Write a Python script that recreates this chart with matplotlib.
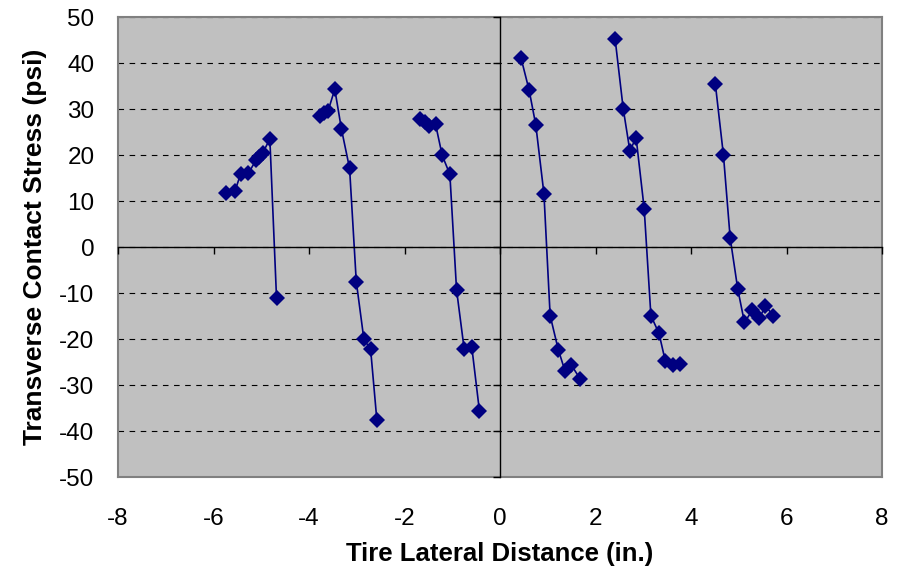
#!/usr/bin/env python
"""Transverse contact stress across the tire width, one trace per rib."""

import matplotlib

matplotlib.use("Agg")
import matplotlib.pyplot as plt

plt.rcParams["font.family"] = ["Liberation Sans", "DejaVu Sans"]
plt.rcParams["axes.unicode_minus"] = False

# lateral distance (in.) and stress (psi) for each rib
rib1_x = [-5.73, -5.55, -5.43, -5.27, -5.11, -5.05, -4.97, -4.82, -4.68]
rib1_y = [11.8, 12.2, 15.9, 16.0, 18.9, 19.6, 20.4, 23.5, -11.1]

rib2_x = [-3.77, -3.69, -3.60, -3.46, -3.32, -3.15, -3.01, -2.85, -2.71, -2.58]
rib2_y = [28.5, 29.1, 29.6, 34.3, 25.6, 17.1, -7.5, -20.1, -22.2, -37.5]

rib3_x = [-1.68, -1.58, -1.48, -1.35, -1.21, -1.05, -0.91, -0.75, -0.59, -0.43]
rib3_y = [27.8, 27.2, 26.3, 26.7, 19.9, 15.8, -9.3, -22.2, -21.8, -35.7]

rib4_x = [0.44, 0.61, 0.75, 0.92, 1.05, 1.22, 1.36, 1.49, 1.68]
rib4_y = [41.1, 34.1, 26.5, 11.6, -14.9, -22.3, -26.9, -25.6, -28.7]

rib5_x = [2.41, 2.58, 2.72, 2.85, 3.02, 3.16, 3.33, 3.46, 3.63, 3.78]
rib5_y = [45.3, 30.1, 20.9, 23.8, 8.3, -14.9, -18.8, -24.7, -25.6, -25.4]

rib6_x = [4.51, 4.68, 4.82, 4.98, 5.12, 5.28, 5.43, 5.56, 5.72]
rib6_y = [35.4, 19.9, 2.0, -9.2, -16.4, -13.8, -15.5, -12.8, -14.9]

ribs = [
    (rib1_x, rib1_y),
    (rib2_x, rib2_y),
    (rib3_x, rib3_y),
    (rib4_x, rib4_y),
    (rib5_x, rib5_y),
    (rib6_x, rib6_y),
]

x_ticks = [-8, -6, -4, -2, 0, 2, 4, 6, 8]
y_ticks = [-50, -40, -30, -20, -10, 0, 10, 20, 30, 40, 50]

fig = plt.figure(figsize=(9.09, 5.71), dpi=100)
rect = [118 / 909, 1 - 477 / 571, (882 - 118) / 909, (477 - 17) / 571]
ax = fig.add_axes(rect)
ax.set_facecolor("#C0C0C0")

for xs, ys in ribs:
    ax.plot(xs, ys, color="#000080", linewidth=1.2, marker="D", markersize=8.5,
            markeredgewidth=0, zorder=3)

ax.set_xlim(-8, 8)
ax.set_ylim(-50, 50)
ax.set_xticks(x_ticks)
ax.set_yticks(y_ticks)
ax.tick_params(length=0, labelsize=17.5)
ax.tick_params(axis="y", pad=17)
ax.tick_params(axis="x", pad=22)
ax.yaxis.grid(True, color="black", linestyle=(0, (5, 5)), linewidth=0.8)
ax.set_axisbelow(True)
for side in ax.spines.values():
    side.set_color("#808080")
    side.set_linewidth(1.5)

ax.set_xlabel("Tire Lateral Distance (in.)", fontsize=18.5, fontweight="bold", labelpad=9)
ax.set_ylabel("Transverse Contact Stress (psi)", fontsize=19, fontweight="bold", labelpad=9)

# axes crossing at zero, drawn on a transparent overlay
zero_ax = fig.add_axes(rect, sharex=ax, sharey=ax)
zero_ax.patch.set_visible(False)
zero_ax.spines["top"].set_visible(False)
zero_ax.spines["right"].set_visible(False)
zero_ax.spines["left"].set_position("zero")
zero_ax.spines["bottom"].set_position("zero")
zero_ax.spines["left"].set_linewidth(1.0)
zero_ax.spines["bottom"].set_linewidth(1.0)
zero_ax.tick_params(direction="out", length=5, width=1.0,
                    labelleft=False, labelbottom=False)

fig.savefig("out.png", dpi=100)
